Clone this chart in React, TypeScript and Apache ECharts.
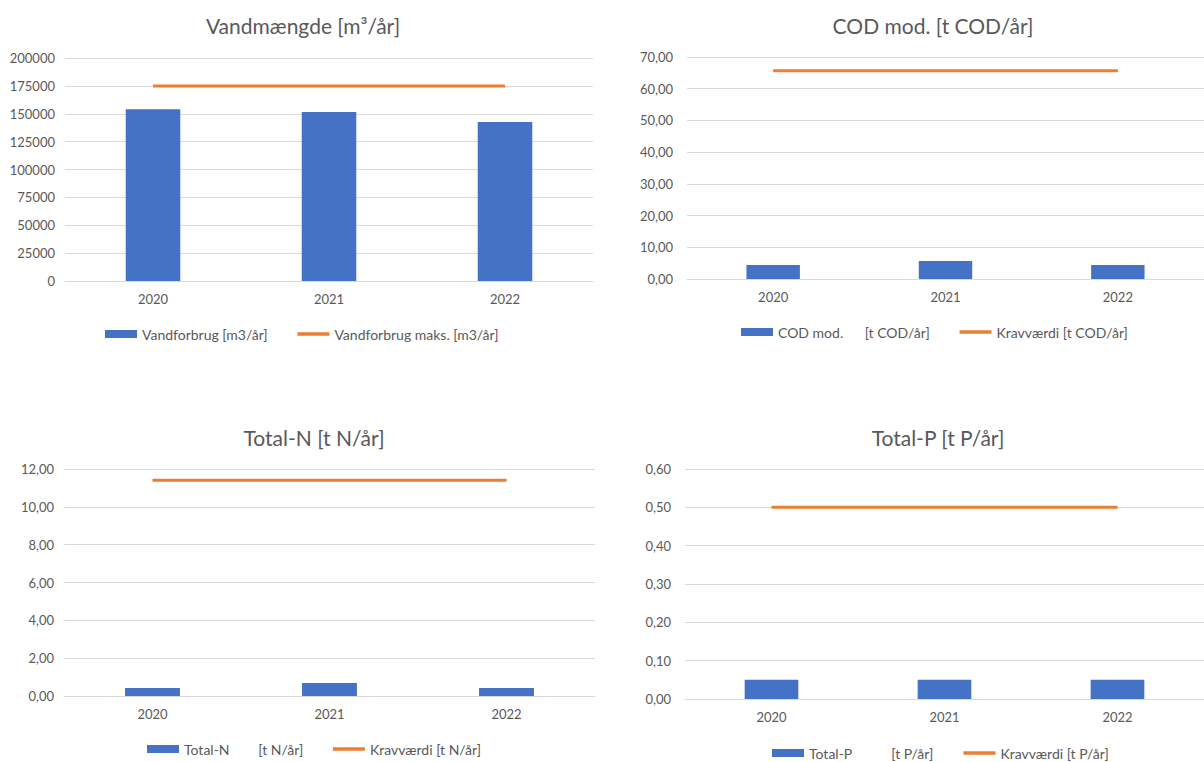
import React, { useEffect, useRef } from "react";
import * as echarts from "echarts";

const categories = ["2020", "2021", "2022"];
const waterUse = [154000, 151500, 142500];
const waterMax = [175000, 175000, 175000];
const codValues = [4.4, 5.7, 4.4];
const codLimit = [65.7, 65.7, 65.7];
const nValues = [0.42, 0.69, 0.42];
const nLimit = [11.4, 11.4, 11.4];
const pValues = [0.05, 0.05, 0.05];
const pLimit = [0.5, 0.5, 0.5];

const titles = ["Vandmængde [m³/år]", "COD mod. [t COD/år]", "Total-N [t N/år]", "Total-P [t P/år]"];
const barNames = [
  "Vandforbrug [m3/år]",
  "COD mod.      [t COD/år]",
  "Total-N        [t N/år]",
  "Total-P           [t P/år]",
];
const lineNames = ["Vandforbrug maks. [m3/år]", "Kravværdi [t COD/år]", "Kravværdi [t N/år]", "Kravværdi [t P/år]"];

const FONT = "Lato, 'Open Sans', sans-serif";
const TXT = "#595959";
const BLUE = "#4472C4";
const ORANGE = "#ED7D31";
const GRID = "#d9d9d9";

export default function App() {
  const ref = useRef<HTMLDivElement>(null);
  useEffect(() => {
    if (!ref.current) return;
    const chart = echarts.init(ref.current, undefined, { renderer: "svg" });
    const grids = [
      { left: 65, top: 58, width: 528, height: 223 },
      { left: 687, top: 57, width: 525, height: 222 },
      { left: 64, top: 469, width: 531, height: 227 },
      { left: 685, top: 469, width: 527, height: 230 },
    ];
    const yRanges = [
      { max: 200000, interval: 25000, fmt: (v: number) => String(v) },
      { max: 70, interval: 10, fmt: (v: number) => v.toFixed(2).replace(".", ",") },
      { max: 12, interval: 2, fmt: (v: number) => v.toFixed(2).replace(".", ",") },
      { max: 0.6, interval: 0.1, fmt: (v: number) => v.toFixed(2).replace(".", ",") },
    ];
    const titlePos = [
      { x: 298, y: 10 },
      { x: 928, y: 10 },
      { x: 309, y: 422 },
      { x: 933, y: 422 },
    ];
    const legendPos = [
      { x: 105, y: 327 },
      { x: 741, y: 325 },
      { x: 147, y: 742 },
      { x: 772, y: 746 },
    ];
    const barData = [waterUse, codValues, nValues, pValues];
    const lineData = [waterMax, codLimit, nLimit, pLimit];

    const option: any = {
      animation: false,
      backgroundColor: "#ffffff",
      title: titles.map((t, i) => ({
        text: t,
        left: titlePos[i].x,
        top: titlePos[i].y,
        textAlign: "center",
        textStyle: { fontFamily: FONT, fontSize: 21, fontWeight: "normal", color: TXT },
      })),
      legend: [0, 1, 2, 3].map((i) => ({
        left: legendPos[i].x,
        top: legendPos[i].y,
        padding: 0,
        itemGap: 28,
        itemWidth: 32,
        itemHeight: 8,
        textStyle: { fontFamily: FONT, fontSize: 14, color: TXT },
        data: [
          { name: barNames[i], icon: "rect" },
          {
            name: lineNames[i],
            itemStyle: { color: "rgba(0,0,0,0)", borderWidth: 0, opacity: 0 },
            lineStyle: { color: ORANGE, width: 3.5 },
          },
        ],
      })),
      grid: grids.map((g) => ({ ...g, containLabel: false })),
      xAxis: [0, 1, 2, 3].map((i) => ({
        type: "category",
        gridIndex: i,
        data: categories,
        axisTick: { show: false },
        axisLine: { lineStyle: { color: GRID, width: 1 } },
        axisLabel: { fontFamily: FONT, fontSize: 13, color: TXT, margin: 11 },
      })),
      yAxis: [0, 1, 2, 3].map((i) => ({
        type: "value",
        gridIndex: i,
        min: 0,
        max: yRanges[i].max,
        interval: yRanges[i].interval,
        axisLine: { show: false },
        axisTick: { show: false },
        splitLine: { lineStyle: { color: GRID, width: 1 } },
        axisLabel: {
          fontFamily: FONT,
          fontSize: 13,
          color: TXT,
          margin: i === 0 || i === 2 ? 10 : 14,
          formatter: yRanges[i].fmt,
        },
      })),
      series: [0, 1, 2, 3].flatMap((i) => [
        {
          type: "bar",
          name: barNames[i],
          xAxisIndex: i,
          yAxisIndex: i,
          data: barData[i],
          barWidth: "31%",
          itemStyle: { color: BLUE },
        },
        {
          type: "line",
          name: lineNames[i],
          xAxisIndex: i,
          yAxisIndex: i,
          data: lineData[i],
          symbol: "none",
          showSymbol: false,
          lineStyle: { color: ORANGE, width: 3 },
          itemStyle: { color: ORANGE },
        },
      ]),
    };
    chart.setOption(option);
    return () => chart.dispose();
  }, []);
  return (
    <div
      ref={ref}
      style={{ position: "absolute", left: 0, top: 0, width: 1204, height: 762, background: "#fff" }}
    />
  );
}
